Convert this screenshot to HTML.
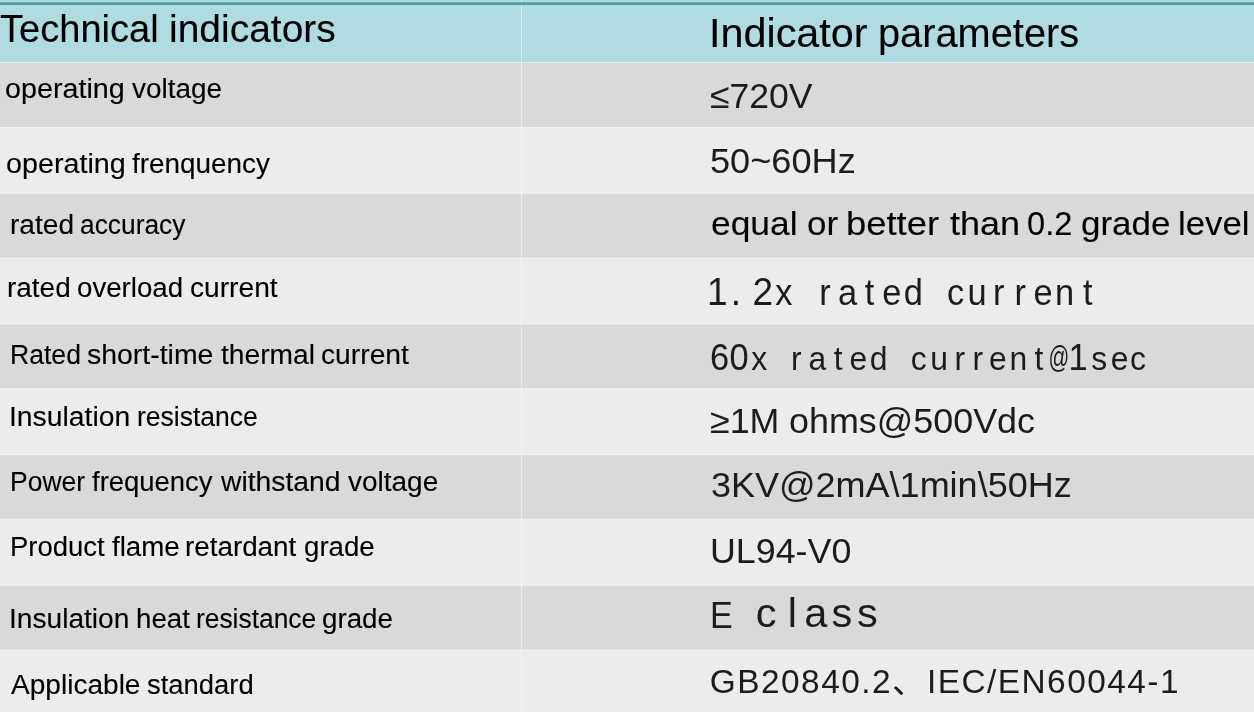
<!DOCTYPE html>
<html lang="en">
<head>
<meta charset="utf-8">
<title>Technical indicators</title>
<style>
html,body{margin:0;padding:0;background:#ececec;}
#wrap{position:relative;width:1254px;height:712px;overflow:hidden;font-family:"Liberation Sans",sans-serif;}
#bg,.ov{position:absolute;left:0;top:0;display:block;pointer-events:none;}
table{position:static;border-collapse:separate;border-spacing:0;width:1254px;table-layout:fixed;margin:0;}
th,td{padding:0;margin:0;border:0;height:65px;font-weight:normal;text-align:left;}
tr.hd th{height:63px;}
th:first-child,td:first-child{width:522px;}
.w{position:absolute;white-space:nowrap;transform-origin:0 0;display:block;}
.m .w{-webkit-text-stroke:0.12px #000;}
</style>
</head>
<body>
<div id="wrap">
<svg id="bg" width="1254" height="712" viewBox="0 0 1254 712">
<rect x="0" y="0" width="1254" height="712" fill="#ececec"/>
<rect x="0" y="50.00" width="1254" height="77.50" fill="#d9d9d9"/>
<rect x="0" y="193.30" width="1254" height="64.80" fill="#d9d9d9"/>
<rect x="0" y="324.00" width="1254" height="64.60" fill="#d9d9d9"/>
<rect x="0" y="455.00" width="1254" height="64.00" fill="#d9d9d9"/>
<rect x="0" y="585.30" width="1254" height="64.50" fill="#d9d9d9"/>
<rect x="0" y="0" width="1254" height="62.5" fill="#b0dbe0"/>
<rect x="0" y="62.00" width="1254" height="1" fill="#fff" fill-opacity="0.45"/>
<rect x="0" y="127.00" width="1254" height="1" fill="#fff" fill-opacity="0.45"/>
<rect x="0" y="192.80" width="1254" height="1" fill="#fff" fill-opacity="0.45"/>
<rect x="0" y="257.60" width="1254" height="1" fill="#fff" fill-opacity="0.45"/>
<rect x="0" y="323.50" width="1254" height="1" fill="#fff" fill-opacity="0.45"/>
<rect x="0" y="388.10" width="1254" height="1" fill="#fff" fill-opacity="0.45"/>
<rect x="0" y="454.50" width="1254" height="1" fill="#fff" fill-opacity="0.45"/>
<rect x="0" y="518.50" width="1254" height="1" fill="#fff" fill-opacity="0.45"/>
<rect x="0" y="584.80" width="1254" height="1" fill="#fff" fill-opacity="0.45"/>
<rect x="0" y="649.30" width="1254" height="1" fill="#fff" fill-opacity="0.45"/>
<rect x="521" y="0" width="1" height="712" fill="#fff" fill-opacity="0.45"/>
<rect x="0" y="2.3" width="1254" height="2.7" fill="#4f9ca2"/>
<rect x="0" y="5" width="1254" height="1" fill="#a6e6ea" fill-opacity="0.6"/>
</svg>
<table>
<thead>
<tr class="hd"><th><span class="t m" style="font:39.2px/1 'Liberation Sans', sans-serif;color:#000"><span class="w" style="left:0.41px;top:9.00px;transform:scaleX(0.9711)">Technical</span> <span class="w" style="left:169.06px;top:9.00px;transform:scaleX(0.9946)">indicators</span></span></th><th><span class="t m" style="font:41.2px/1 'Liberation Sans', sans-serif;color:#000"><span class="w" style="left:708.57px;top:13.00px;transform:scaleX(1.0039)">Indicator</span> <span class="w" style="left:877.71px;top:13.00px;transform:scaleX(0.9657)">parameters</span></span></th></tr>
</thead>
<tbody>
<tr><td><span class="t m" style="font:27.0px/1 'Liberation Sans', sans-serif;color:#000"><span class="w" style="left:4.80px;top:75.90px;transform:scaleX(1.0635)">operating</span> <span class="w" style="left:131.70px;top:75.90px;transform:scaleX(1.0346)">voltage</span></span></td><td><span class="t" style="font:34.9px/1 'Liberation Sans', sans-serif;color:#1c1c1c"><span class="w" style="left:710.34px;top:78.80px;transform:scaleX(1.0191)">≤720V</span></span></td></tr>
<tr><td><span class="t m" style="font:27.0px/1 'Liberation Sans', sans-serif;color:#000"><span class="w" style="left:5.90px;top:150.50px;transform:scaleX(1.0635)">operating</span> <span class="w" style="left:131.81px;top:150.50px;transform:scaleX(1.0322)">frenquency</span></span></td><td><span class="t" style="font:35.0px/1 'Liberation Sans', sans-serif;color:#1c1c1c"><span class="w" style="left:709.97px;top:142.90px;transform:scaleX(1.0329)">50~60Hz</span></span></td></tr>
<tr><td><span class="t m" style="font:27.0px/1 'Liberation Sans', sans-serif;color:#000"><span class="w" style="left:9.78px;top:212.30px;transform:scaleX(1.0404)">rated</span> <span class="w" style="left:80.40px;top:212.30px;transform:scaleX(0.9755)">accuracy</span></span></td><td><span class="t m" style="font:34.0px/1 'Liberation Sans', sans-serif;color:#000"><span class="w" style="left:711.39px;top:205.65px;transform:scaleX(1.0402)">equal</span> <span class="w" style="left:806.51px;top:205.65px;transform:scaleX(1.0275)">or</span> <span class="w" style="left:845.83px;top:205.65px;transform:scaleX(1.0703)">better</span> <span class="w" style="left:949.50px;top:205.65px;transform:scaleX(1.0597)">than</span> <span class="w" style="left:1026.78px;top:205.65px;transform:scaleX(0.9593)">0.2</span> <span class="w" style="left:1081.41px;top:205.65px;transform:scaleX(1.0270)">grade</span> <span class="w" style="left:1178.33px;top:205.65px;transform:scaleX(1.0235)">level</span></span></td></tr>
<tr><td><span class="t m" style="font:27.0px/1 'Liberation Sans', sans-serif;color:#000"><span class="w" style="left:7.44px;top:275.20px;transform:scaleX(1.0344)">rated</span> <span class="w" style="left:77.05px;top:275.20px;transform:scaleX(1.0248)">overload</span> <span class="w" style="left:189.63px;top:275.20px;transform:scaleX(1.0425)">current</span></span></td><td><svg class="ov" width="1254" height="712" viewBox="0 0 1254 712"><text transform="scale(0.94,1)" x="752.16 777.51 800.48 824.83 852.47 871.51 891.39 919.99 938.48 961.40 989.70 1007.36 1029.32 1056.51 1079.16 1099.43 1122.24 1152.22" y="305.1" font-family="'Liberation Sans', sans-serif" font-size="36.6" fill="#1c1c1c"><tspan font-size="39.4">1.2</tspan>x rated current</text></svg></td></tr>
<tr><td><span class="t m" style="font:27.0px/1 'Liberation Sans', sans-serif;color:#000"><span class="w" style="left:9.61px;top:341.70px;transform:scaleX(0.9842)">Rated</span> <span class="w" style="left:87.11px;top:341.70px;transform:scaleX(1.0531)">short-time</span> <span class="w" style="left:221.01px;top:341.70px;transform:scaleX(1.0443)">thermal</span> <span class="w" style="left:320.52px;top:341.70px;transform:scaleX(1.0461)">current</span></span></td><td><svg class="ov" width="1254" height="712" viewBox="0 0 1254 712"><text transform="scale(0.94,1)" x="755.34 775.99 799.18 824.53 841.38 860.07 886.86 903.69 925.32 951.75 968.91 989.75 1015.32 1034.47 1052.20 1073.85 1100.48" y="370.2" font-family="'Liberation Sans', sans-serif" font-size="33.9" fill="#1c1c1c"><tspan font-size="36.6">60</tspan>x rated current</text><text transform="translate(1058.8,0) scale(0.61,0.94)" x="0" y="391.03" text-anchor="middle" font-family="'Liberation Sans', sans-serif" font-size="33.5" fill="#1c1c1c">@</text><text transform="scale(0.94,1)" x="1136.81 1161.03 1181.56 1202.21" y="370.2" font-family="'Liberation Sans', sans-serif" font-size="33.9" fill="#1c1c1c"><tspan font-size="36.6">1</tspan>sec</text></svg></td></tr>
<tr><td><span class="t m" style="font:27.0px/1 'Liberation Sans', sans-serif;color:#000"><span class="w" style="left:9.11px;top:403.90px;transform:scaleX(1.0487)">Insulation</span> <span class="w" style="left:136.68px;top:403.90px;transform:scaleX(0.9812)">resistance</span></span></td><td><span class="t" style="font:34.7px/1 'Liberation Sans', sans-serif;color:#1c1c1c"><span class="w" style="left:709.88px;top:404.00px;transform:scaleX(1.0325)">≥1M</span> <span class="w" style="left:789.38px;top:404.00px;transform:scaleX(1.0350)">ohms@500Vdc</span></span></td></tr>
<tr><td><span class="t m" style="font:27.0px/1 'Liberation Sans', sans-serif;color:#000"><span class="w" style="left:9.62px;top:468.90px;transform:scaleX(0.9806)">Power</span> <span class="w" style="left:92.02px;top:468.90px;transform:scaleX(1.0169)">frequency</span> <span class="w" style="left:221.43px;top:468.90px;transform:scaleX(1.0484)">withstand</span> <span class="w" style="left:348.10px;top:468.90px;transform:scaleX(1.0358)">voltage</span></span></td><td><span class="t" style="font:34.7px/1 'Liberation Sans', sans-serif;color:#1c1c1c"><span class="w" style="left:710.87px;top:468.30px;transform:scaleX(1.0378)">3KV@2mA\1min\50Hz</span></span></td></tr>
<tr><td><span class="t m" style="font:27.0px/1 'Liberation Sans', sans-serif;color:#000"><span class="w" style="left:9.54px;top:533.90px;transform:scaleX(1.0176)">Product</span> <span class="w" style="left:111.72px;top:533.90px;transform:scaleX(1.0262)">flame</span> <span class="w" style="left:185.40px;top:533.90px;transform:scaleX(1.0293)">retardant</span> <span class="w" style="left:303.75px;top:533.90px;transform:scaleX(1.0241)">grade</span></span></td><td><span class="t" style="font:34.9px/1 'Liberation Sans', sans-serif;color:#1c1c1c"><span class="w" style="left:709.76px;top:534.00px;transform:scaleX(1.0260)">UL94-V0</span></span></td></tr>
<tr><td><span class="t m" style="font:27.0px/1 'Liberation Sans', sans-serif;color:#000"><span class="w" style="left:9.23px;top:605.60px;transform:scaleX(1.0416)">Insulation</span> <span class="w" style="left:135.51px;top:605.60px;transform:scaleX(1.0242)">heat</span> <span class="w" style="left:195.89px;top:605.60px;transform:scaleX(0.9762)">resistance</span> <span class="w" style="left:322.34px;top:605.60px;transform:scaleX(1.0271)">grade</span></span></td><td><span class="t" style="font:36.9px/1 'Liberation Sans', sans-serif;color:#1c1c1c"><span class="w" style="left:710.24px;top:597.90px;transform:scaleX(0.9242)">E</span></span> <svg class="ov" width="1254" height="712" viewBox="0 0 1254 712"><text x="755.79 787.73 804.18 831.55 857.0" y="627.0" font-family="'Liberation Sans', sans-serif" font-size="41.5" fill="#1c1c1c">class</text></svg></td></tr>
<tr><td><span class="t m" style="font:27.0px/1 'Liberation Sans', sans-serif;color:#000"><span class="w" style="left:11.20px;top:672.00px;transform:scaleX(1.0393)">Applicable</span> <span class="w" style="left:146.64px;top:672.00px;transform:scaleX(1.0148)">standard</span></span></td><td><span class="t" style="font:33.4px/1 'Liberation Sans', 'Noto Sans CJK SC', sans-serif;color:#1c1c1c"><span class="w" style="left:709.83px;top:664.80px;letter-spacing:1.477px">GB20840.2、IEC/EN60044-1</span></span></td></tr>
</tbody>
</table>
</div>
</body>
</html>
